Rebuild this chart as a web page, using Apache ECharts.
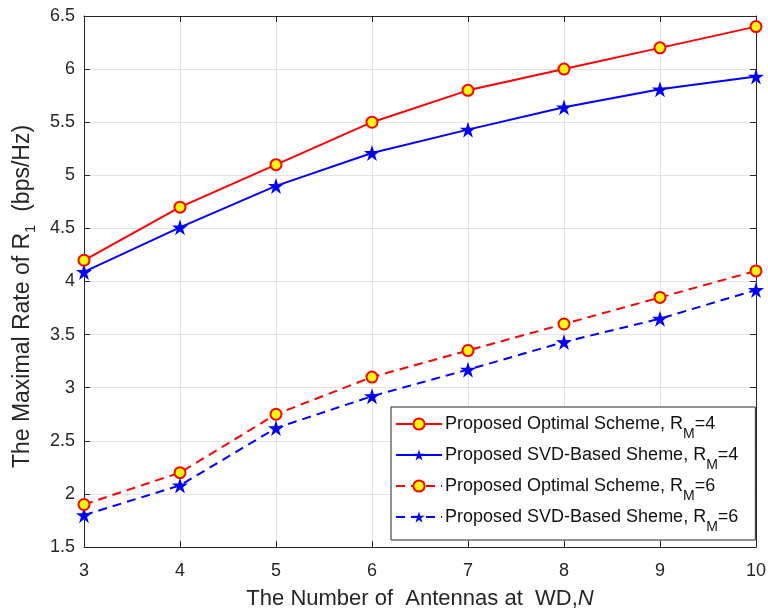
<!DOCTYPE html>
<html><head><meta charset="utf-8">
<script src="https://cdn.jsdelivr.net/npm/echarts@6/dist/echarts.min.js"></script>
<style>html,body{margin:0;padding:0;background:#fff}#c{width:768px;height:609px}</style>
</head><body><div id="c"></div>
<script>
const categories = [3, 4, 5, 6, 7, 8, 9, 10];
const optimalRM4 = [4.2, 4.7, 5.1, 5.5, 5.8, 6.0, 6.2, 6.4];
const svdRM4 = [4.09, 4.51, 4.9, 5.21, 5.43, 5.64, 5.81, 5.93];
const optimalRM6 = [1.9, 2.2, 2.75, 3.1, 3.35, 3.6, 3.85, 4.1];
const svdRM6 = [1.8, 2.08, 2.62, 2.92, 3.17, 3.43, 3.65, 3.92];
const yTicks = [1.5, 2, 2.5, 3, 3.5, 4, 4.5, 5, 5.5, 6, 6.5];
const seriesNames = ['opt4', 'svd4', 'opt6', 'svd6'];
const legendLabels = {
  opt4: 'Proposed Optimal Scheme, R{s|M}=4',
  svd4: 'Proposed SVD-Based Sheme, R{s|M}=4',
  opt6: 'Proposed Optimal Scheme, R{s|M}=6',
  svd6: 'Proposed SVD-Based Sheme, R{s|M}=6'
};

const FONT = "'Liberation Sans', Arial, Helvetica, sans-serif";
const STAR = 'path://M50,0 L61.2,34.5 L97.6,34.5 L68.2,55.9 L79.4,90.5 L50,69.1 L20.6,90.5 L31.8,55.9 L2.4,34.5 L38.8,34.5 Z';
const pair = arr => arr.map((v, i) => [categories[i], v]);

function mk(name, data, color, dashed, star) {
  return {
    name: name, type: 'line', data: pair(data),
    lineStyle: { color: color, width: 2, type: dashed ? [9, 6] : 'solid' },
    itemStyle: star ? { color: color, borderColor: color, borderWidth: 0 }
                    : { color: '#ffff00', borderColor: '#ff0000', borderWidth: 2 },
    symbol: star ? STAR : 'circle',
    symbolSize: star ? 16 : 11,
    showAllSymbol: true,
    z: star ? 3 : 4,
    animation: false
  };
}

const chart = echarts.init(document.getElementById('c'));
const tickLbl = { color: '#262626', fontFamily: FONT, fontSize: 18 };
chart.setOption({
  animation: false,
  backgroundColor: '#fff',
  grid: { left: 84, right: 12, top: 16, bottom: 62, containLabel: false, outerBoundsMode: 'none' },
  xAxis: [{
    type: 'value', min: 3, max: 10, interval: 1,
    axisLine: { show: true, onZero: false, lineStyle: { color: '#262626', width: 1 } },
    axisTick: { show: true, inside: true, length: 6, lineStyle: { color: '#262626' } },
    axisLabel: Object.assign({ margin: 15 }, tickLbl),
    splitLine: { show: true, lineStyle: { color: '#e3e3e3', width: 1 } },
    name: 'The Number of  Antennas at  WD,{i|N}',
    nameLocation: 'middle', nameGap: 41,
    nameTextStyle: { color: '#262626', fontFamily: FONT, fontSize: 22,
      rich: { i: { fontStyle: 'italic', fontFamily: FONT, fontSize: 22, color: '#262626' } } }
  }, {
    type: 'value', min: 3, max: 10, interval: 1, position: 'top',
    axisLine: { show: true, onZero: false, lineStyle: { color: '#262626', width: 1 } },
    axisTick: { show: true, inside: true, length: 6, lineStyle: { color: '#262626' } },
    axisLabel: { show: false }, splitLine: { show: false }
  }],
  yAxis: [{
    type: 'value', min: 1.5, max: 6.5, interval: 0.5,
    axisLine: { show: true, onZero: false, lineStyle: { color: '#262626', width: 1 } },
    axisTick: { show: true, inside: true, length: 6, lineStyle: { color: '#262626' } },
    axisLabel: Object.assign({ margin: 9, formatter: v => String(v) }, tickLbl),
    splitLine: { show: true, lineStyle: { color: '#e3e3e3', width: 1 } },
    name: 'The Maximal Rate of R{s|1}  (bps/Hz)',
    nameLocation: 'middle', nameGap: 50, nameRotate: 90,
    nameTextStyle: { color: '#262626', fontFamily: FONT, fontSize: 23, padding: [0, 30, 0, 0],
      rich: { s: { fontSize: 15, fontFamily: FONT, color: '#262626', verticalAlign: 'bottom', padding: [0, 0, -4, 0], lineHeight: 10 } } }
  }, {
    type: 'value', min: 1.5, max: 6.5, interval: 0.5, position: 'right',
    axisLine: { show: true, onZero: false, lineStyle: { color: '#262626', width: 1 } },
    axisTick: { show: true, inside: true, length: 6, lineStyle: { color: '#262626' } },
    axisLabel: { show: false }, splitLine: { show: false }
  }],
  legend: {
    orient: 'vertical', left: 391, top: 407,
    padding: [8, 17, 6, 4], itemGap: 5, itemWidth: 46, itemHeight: 14,
    borderColor: '#262626', borderWidth: 1, backgroundColor: '#fff',
    data: seriesNames,
    formatter: n => legendLabels[n],
    textStyle: { color: '#111', fontFamily: FONT, fontSize: 18, padding: [0, 0, 0, -2],
      rich: { s: { fontSize: 14, fontFamily: FONT, color: '#111', verticalAlign: 'bottom', lineHeight: 6, padding: [0, 0, -8, 0] } } }
  },
  series: [
    mk('opt4', optimalRM4, '#ff0000', false, false),
    mk('svd4', svdRM4, '#0000ff', false, true),
    mk('opt6', optimalRM6, '#ff0000', true, false),
    mk('svd6', svdRM6, '#0000ff', true, true)
  ]
});
</script></body></html>
